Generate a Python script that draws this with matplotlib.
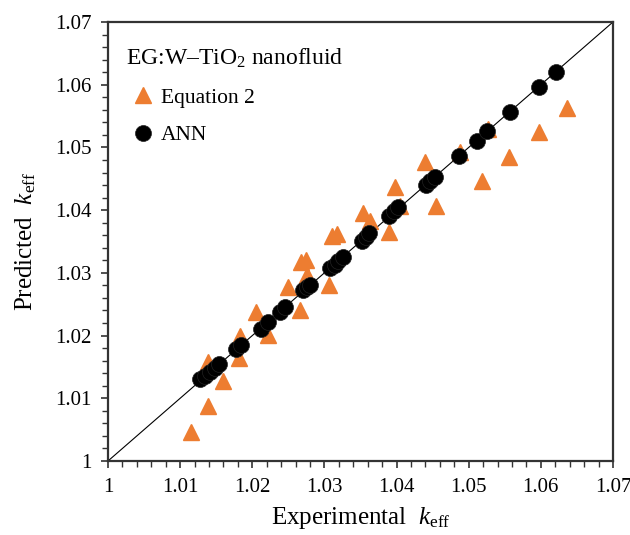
import matplotlib
matplotlib.use("Agg")
import matplotlib.pyplot as plt
from matplotlib.ticker import MultipleLocator

# Equation 2 predictions (orange triangles)
eq2_exp = [1.0115, 1.0138, 1.0138, 1.0159, 1.0181, 1.0183, 1.0205, 1.0222,
           1.0250, 1.0266, 1.0268, 1.0275, 1.0276, 1.0307, 1.0311, 1.0317,
           1.0354, 1.0363, 1.0389, 1.0398, 1.0405, 1.0439, 1.0455, 1.0488,
           1.0518, 1.0527, 1.0556, 1.0598, 1.0636]
eq2_pred = [1.0047, 1.0087, 1.0158, 1.0127, 1.0164, 1.0199, 1.0238, 1.0201,
            1.0278, 1.0241, 1.0318, 1.0321, 1.0297, 1.0280, 1.0358, 1.0362,
            1.0396, 1.0382, 1.0365, 1.0437, 1.0407, 1.0477, 1.0406, 1.0493,
            1.0446, 1.0530, 1.0485, 1.0525, 1.0563]

# ANN predictions (black circles)
ann_exp = [1.0128, 1.0135, 1.0141, 1.0148, 1.0154, 1.0178, 1.0184, 1.0212,
           1.0222, 1.0238, 1.0245, 1.0271, 1.0276, 1.0280, 1.0308, 1.0314,
           1.0319, 1.0326, 1.0352, 1.0357, 1.0362, 1.0390, 1.0396, 1.0402,
           1.0441, 1.0447, 1.0453, 1.0486, 1.0511, 1.0526, 1.0557, 1.0597,
           1.0621]
ann_pred = [1.0130, 1.0136, 1.0142, 1.0149, 1.0155, 1.0178, 1.0185, 1.0210,
            1.0221, 1.0238, 1.0246, 1.0273, 1.0277, 1.0281, 1.0307, 1.0313,
            1.0319, 1.0326, 1.0350, 1.0357, 1.0364, 1.0391, 1.0398, 1.0405,
            1.0440, 1.0446, 1.0453, 1.0486, 1.0511, 1.0526, 1.0557, 1.0597,
            1.0621]

axis_min, axis_max = 1.0, 1.07

plt.rcParams["font.family"] = ["Liberation Serif", "DejaVu Serif"]
plt.rcParams["mathtext.fontset"] = "custom"
plt.rcParams["mathtext.rm"] = "Liberation Serif"
plt.rcParams["mathtext.it"] = "Liberation Serif:italic"


def main():
    fig = plt.figure(figsize=(6.3, 5.35), dpi=100)
    ax = fig.add_axes([0.1714, 0.1383, 0.8016, 0.8206])

    ax.plot([axis_min, axis_max], [axis_min, axis_max], color="black",
            lw=0.8, zorder=1)
    ax.plot(eq2_exp, eq2_pred, linestyle="none", marker="^", ms=12,
            color="#ED7D31", mec="#ED7D31", label="Equation 2", zorder=2)
    ax.plot(ann_exp, ann_pred, linestyle="none", marker="o", ms=11.5,
            color="black", mec="#222222", mew=0.5, label="ANN", zorder=3)

    ax.set_xlim(axis_min, axis_max)
    ax.set_ylim(axis_min, axis_max)
    for a in (ax.xaxis, ax.yaxis):
        a.set_major_locator(MultipleLocator(0.01))
        a.set_minor_locator(MultipleLocator(0.002))

    def fmt(v, pos):
        return "1" if abs(v - 1.0) < 1e-9 else f"{v:.2f}"
    ax.xaxis.set_major_formatter(fmt)
    ax.yaxis.set_major_formatter(fmt)

    ax.tick_params(which="both", direction="out", top=False, right=False,
                   labelsize=15, color="#333333")
    ax.tick_params(which="major", length=5, width=1.2, pad=7)
    ax.tick_params(which="minor", length=4, width=1.0)
    for sp in ax.spines.values():
        sp.set_linewidth(1.6)
        sp.set_color("#333333")

    ax.set_xlabel(r"Experimental  $k_{\mathrm{eff}}$", fontsize=18, labelpad=6)
    ax.set_ylabel(r"Predicted  $k_{\mathrm{eff}}$", fontsize=18, labelpad=12)

    ax.legend(loc="upper left", bbox_to_anchor=(0.005, 0.977),
              frameon=False, fontsize=15.5,
              title="EG:W\u2013TiO$_2$ nanofluid", title_fontsize=17,
              alignment="left", handletextpad=0.05, handlelength=1.6,
              labelspacing=0.8, borderaxespad=0.3)

    fig.savefig("out.png", dpi=100)


if __name__ == "__main__":
    main()
